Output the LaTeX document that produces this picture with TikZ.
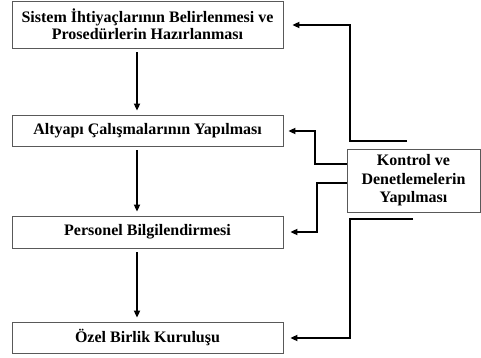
\documentclass[tikz,border=0pt]{standalone}
\usepackage{fontspec}
\setmainfont{Liberation Serif}
\usepackage{tikz}
\usetikzlibrary{arrows,arrows.meta,shapes}
\tikzstyle{stage}=[draw=black!65,line width=0.8pt,minimum width=271pt,inner sep=2pt,align=center,font=\fontsize{16}{17}\selectfont\bfseries]
\tikzstyle{flow} = [draw,line width=2pt,-{Triangle[length=7pt,width=6pt]}]

\begin{document}
\begin{tikzpicture}[x=1pt,y=-1pt]
    \useasboundingbox (0,0) rectangle (481,358);
    % First we draw the stages
    \foreach \pos/\name/\h/\txt in {{(147.5,24.5)/s1/47/Sistem İhtiyaçlarının Belirlenmesi ve\\Prosedürlerin Hazırlanması},
        {(147.5,130.5)/s2/31/Altyapı Çalışmalarının Yapılması},
        {(147.5,232)/s3/32/Personel Bilgilendirmesi},
        {(147.5,337.5)/s4/31/Özel Birlik Kuruluşu}}
        \node[stage,minimum height=\h pt] (\name) at \pos {\txt};
    % control box on the right
    \node[stage,minimum width=133pt,minimum height=63pt,font=\fontsize{16}{18.5}\selectfont\bfseries] (ctrl) at (413.5,180.5) {Kontrol ve\\Denetlemelerin\\Yapılması};
    % Connect stages with arrows
    \foreach \source/ \dest in {s1/s2, s2/s3, s3/s4}
        \path[flow,shorten <=4pt,shorten >=4pt] ([xshift=-10.5pt]\source.south) -- ([xshift=-10.5pt]\dest.north) ;
    % feedback lines
    \coordinate (top) at (407,141);
    \coordinate (low) at (413,219);
    \path[flow] (top) -| (350,25) -- ([xshift=9pt]s1.east |- 0,25);
    \path[flow] ([yshift=16.5pt]ctrl.west) -| (315,131) -- ([xshift=5pt]s2.east |- 0,131);
    \path[flow] ([yshift=-2.5pt]ctrl.west) -| (317,232) -- ([xshift=7pt]s3.east);
    \path[flow] (low) -| (350,338) -- ([xshift=7pt]s4.east |- 0,338);
\end{tikzpicture}
\end{document}
